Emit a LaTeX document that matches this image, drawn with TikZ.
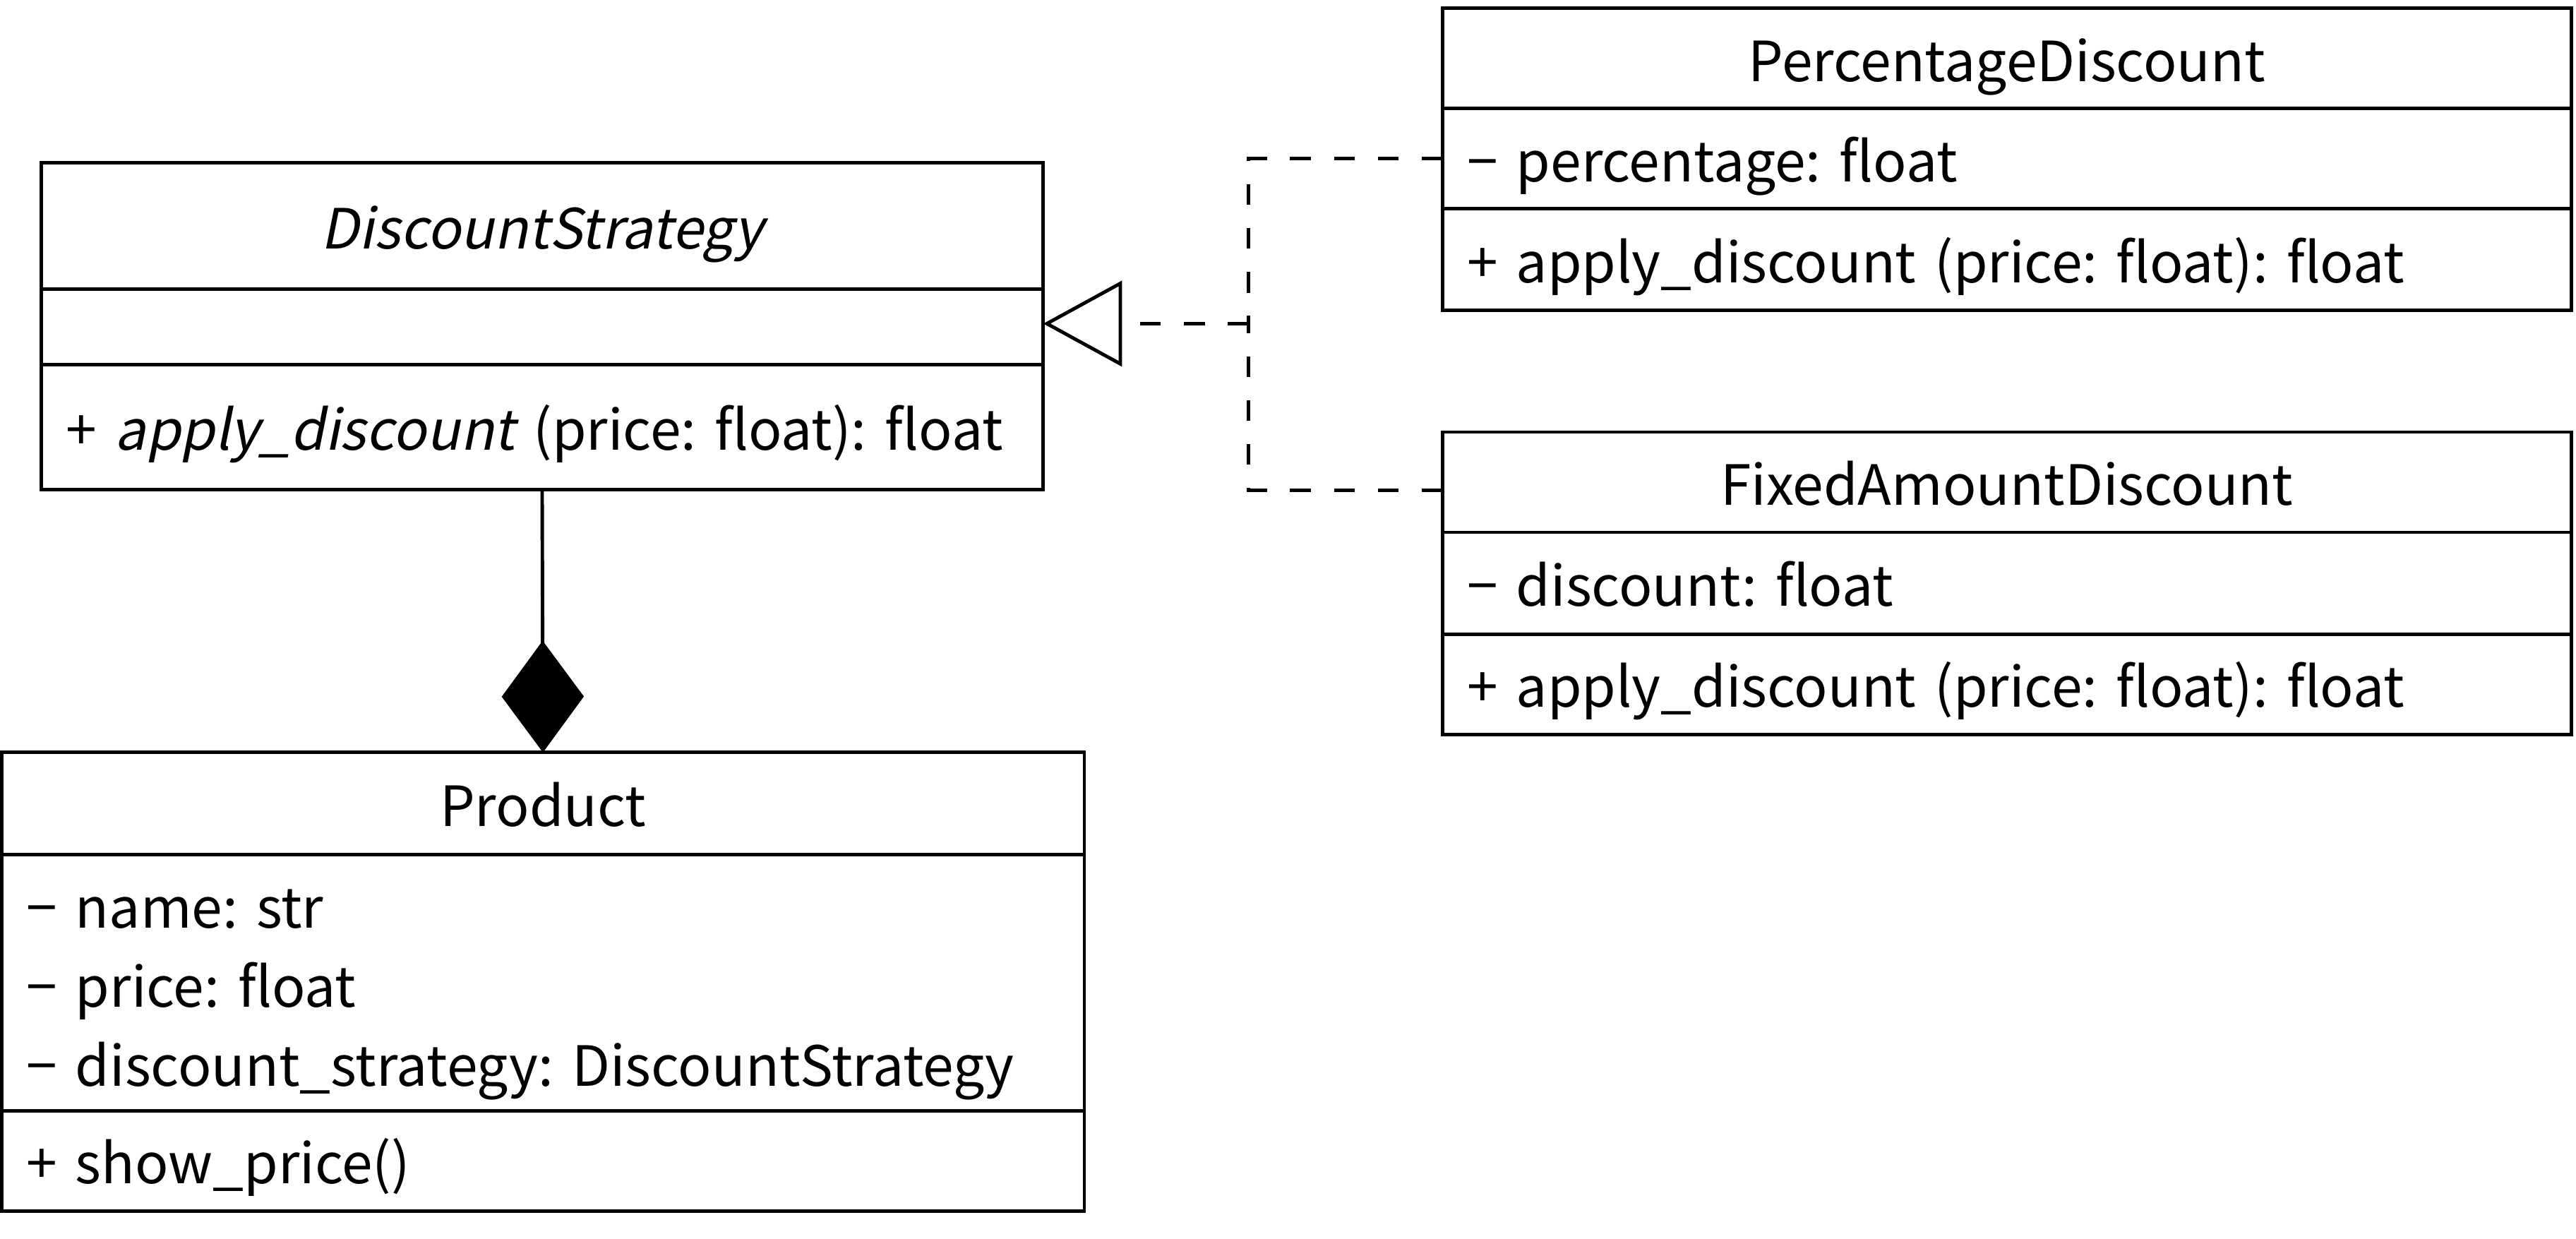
\documentclass[tikz,border=0pt]{standalone}
\usepackage{fontspec}
\setmainfont{Noto Sans CJK JP}
\newfontfamily\slantfont[FakeSlant=0.2]{Noto Sans CJK JP}
\usetikzlibrary{positioning,arrows.meta}
\frenchspacing

\begin{document}
\begin{tikzpicture}[
    node distance=0pt,
    head/.style={draw, line width=0.6pt, outer sep=0pt, inner sep=0pt, anchor=north west, align=center, text height=8pt, text depth=0pt, font=\fontsize{9.6}{12}\selectfont},
    part/.style={draw, line width=0.6pt, outer sep=0pt, inner xsep=0.15cm, inner ysep=0pt, align=left, text height=8pt, text depth=0pt, font=\fontsize{9.6}{13.7}\selectfont},
    comp/.style={line width=0.6pt, -{Diamond[length=0.68cm, width=0.50cm]}},
    real/.style={line width=0.6pt, dash pattern=on 3.6pt off 4pt},
]
\useasboundingbox (0,0) rectangle (15.68,7.54);

% Abstract strategy
\node[head, minimum width=6.10cm, minimum height=0.77cm] (dsName) at (0.25,6.55) {\slantfont DiscountStrategy};
\node[part, below=of dsName, text width=5.80cm, minimum height=0.46cm] (dsAttr) {};
\node[part, below=of dsAttr, text width=5.80cm, minimum height=0.76cm] (dsMeth) {\mbox{+ {\slantfont apply\_discount} (price: float): float}};

% Context class
\node[head, minimum width=6.59cm, minimum height=0.62cm] (prodName) at (0.01,2.96) {Product};
\node[part, below=of prodName, text width=6.29cm, minimum height=1.56cm, text height={}, text depth={}] (prodAttr) {\rule{0pt}{11pt}− name: str\\− price: float\\− discount\_strategy: DiscountStrategy};
\node[part, below=of prodAttr, text width=6.29cm, minimum height=0.61cm] (prodMeth) {+ show\_price()};

% Concrete strategies
\node[head, minimum width=6.87cm, minimum height=0.61cm] (pdName) at (8.78,7.49) {PercentageDiscount};
\node[part, below=of pdName, text width=6.57cm, minimum height=0.61cm] (pdAttr) {− percentage: float};
\node[part, below=of pdAttr, text width=6.57cm, minimum height=0.62cm] (pdMeth) {+ apply\_discount (price: float): float};

\node[head, minimum width=6.87cm, minimum height=0.61cm] (fadName) at (8.78,4.91) {FixedAmountDiscount};
\node[part, below=of fadName, text width=6.57cm, minimum height=0.62cm] (fadAttr) {− discount: float};
\node[part, below=of fadAttr, text width=6.57cm, minimum height=0.61cm] (fadMeth) {+ apply\_discount (price: float): float};

% Composition
\draw[comp] (dsMeth.south) -- (prodName.north);

% Realization
\coordinate (joint) at (7.60,5.57);
\draw[real, -{Triangle[open, length=0.48cm, width=0.52cm]}] (joint) -- (joint -| dsAttr.east);
\draw[real] (pdAttr.west) -| (joint);
\draw[real] ([yshift=-0.05cm]fadName.west) -| (joint);
\end{tikzpicture}
\end{document}
